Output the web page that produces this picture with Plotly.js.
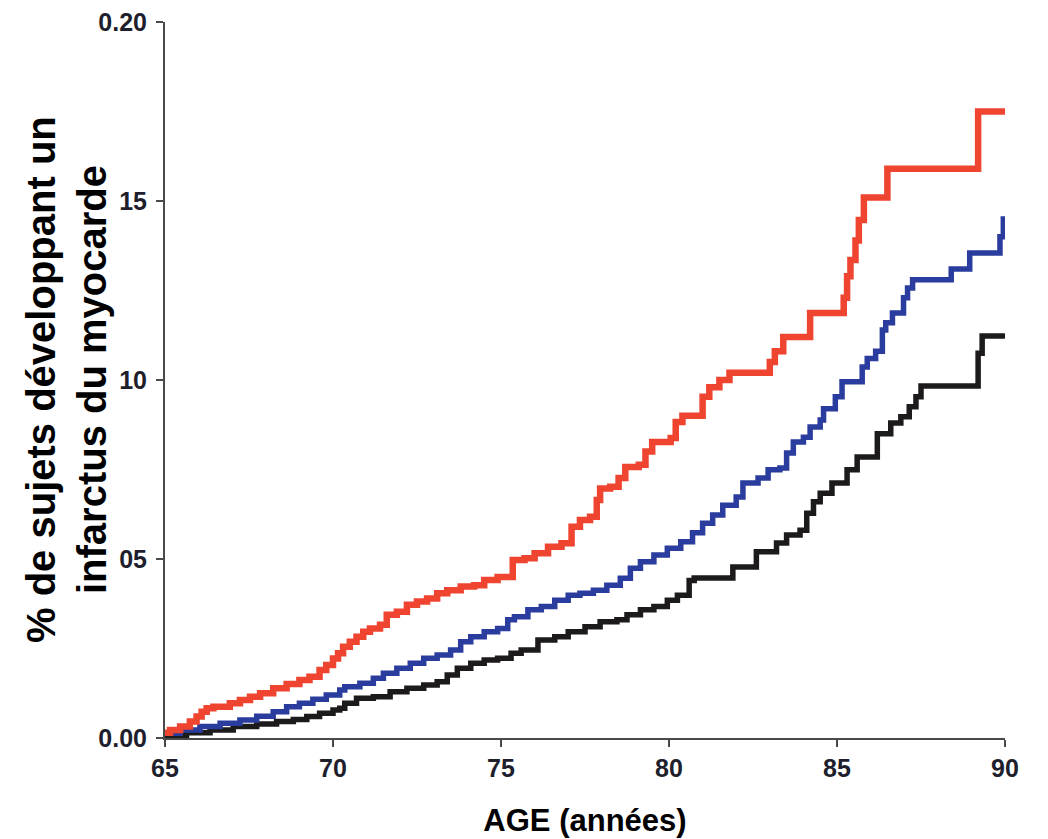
<!DOCTYPE html>
<html>
<head>
<meta charset="utf-8">
<script src="https://cdn.plot.ly/plotly-3.0.1.min.js"></script>
<style>
html,body{margin:0;padding:0;background:#fff;}
#chart{width:1048px;height:839px;}
</style>
</head>
<body>
<div id="chart"></div>
<script>
// Ages (années) and cumulative fraction of subjects with myocardial infarction
const redAge = [65.0,65.15,65.45,65.74,65.94,66.09,66.24,66.44,66.93,67.23,67.53,67.83,68.22,68.62,69.0,69.3,69.6,69.8,70.0,70.15,70.3,70.5,70.7,70.9,71.1,71.4,71.6,71.9,72.2,72.5,72.8,73.1,73.4,73.8,74.2,74.5,74.9,75.35,75.7,76.0,76.4,76.8,77.1,77.35,77.65,77.85,77.95,78.25,78.5,78.7,79.1,79.3,79.5,80.05,80.2,80.4,81.0,81.2,81.5,81.8,83.0,83.15,83.4,84.2,85.2,85.3,85.4,85.55,85.65,85.8,86.5,89.2,90.0];
const redVal = [0.0015,0.0022,0.0032,0.0046,0.0060,0.0073,0.0083,0.0087,0.0097,0.0106,0.0115,0.0125,0.0139,0.0151,0.0162,0.0171,0.0190,0.0204,0.0222,0.0237,0.0255,0.0269,0.0283,0.0297,0.0306,0.0316,0.0344,0.0353,0.0372,0.0381,0.0390,0.0404,0.0413,0.0423,0.0427,0.0441,0.0450,0.0497,0.0502,0.0516,0.0534,0.0544,0.0590,0.0609,0.0618,0.0665,0.0697,0.0702,0.0726,0.0757,0.0763,0.0800,0.0827,0.0838,0.0883,0.0900,0.0953,0.0980,0.1000,0.1020,0.1050,0.1080,0.1120,0.1187,0.1230,0.1290,0.1335,0.1390,0.1447,0.1510,0.1590,0.1750,0.1750];

const blueAge = [65.0,65.45,66.04,66.64,67.23,67.73,68.22,68.62,69.0,69.4,69.8,70.2,70.35,70.8,71.2,71.5,71.9,72.3,72.7,73.1,73.5,73.8,74.1,74.5,74.9,75.2,75.4,75.8,76.2,76.6,77.0,77.35,77.75,78.15,78.55,78.85,79.15,79.55,79.95,80.35,80.7,81.0,81.3,81.6,82.0,82.2,82.65,82.95,83.3,83.5,83.7,84.0,84.2,84.5,84.6,84.95,85.15,85.75,85.9,86.15,86.35,86.45,86.65,86.98,87.1,87.25,88.4,88.95,89.85,89.95,90.0];
const blueVal = [0.0013,0.0022,0.0032,0.0041,0.0050,0.0061,0.0073,0.0087,0.0097,0.0108,0.0120,0.0134,0.0143,0.0153,0.0167,0.0181,0.0195,0.0209,0.0223,0.0232,0.0246,0.0269,0.0283,0.0297,0.0306,0.0330,0.0339,0.0358,0.0367,0.0385,0.0399,0.0404,0.0413,0.0427,0.0446,0.0474,0.0492,0.0511,0.0530,0.0548,0.0573,0.0600,0.0623,0.0650,0.0673,0.0712,0.0726,0.0749,0.0754,0.0796,0.0827,0.0840,0.0869,0.0888,0.0920,0.0953,0.0995,0.1036,0.1060,0.1080,0.1140,0.1160,0.1187,0.1230,0.1257,0.1280,0.1310,0.1355,0.1400,0.1450,0.1450];

const blackAge = [65.0,65.64,66.34,67.03,67.73,68.32,68.82,69.22,69.6,70.0,70.2,70.35,70.7,71.2,71.7,72.2,72.7,73.1,73.4,73.7,74.1,74.5,74.9,75.3,75.6,76.1,76.6,77.0,77.5,77.95,78.45,78.75,79.15,79.55,79.95,80.25,80.6,80.75,81.9,82.6,83.2,83.5,83.9,84.1,84.3,84.5,84.85,85.3,85.6,86.2,86.6,86.9,87.15,87.35,87.5,89.2,89.32,90.0];
const blackVal = [0.0008,0.0015,0.0022,0.0032,0.0039,0.0046,0.0052,0.0060,0.0069,0.0078,0.0083,0.0097,0.0111,0.0115,0.0129,0.0139,0.0148,0.0157,0.0176,0.0195,0.0209,0.0218,0.0223,0.0237,0.0246,0.0274,0.0283,0.0297,0.0311,0.0325,0.0330,0.0344,0.0358,0.0367,0.0385,0.0399,0.0440,0.0447,0.0478,0.0520,0.0545,0.0567,0.0580,0.0628,0.0660,0.0684,0.0712,0.0749,0.0785,0.0850,0.0880,0.0897,0.0925,0.0953,0.0983,0.1075,0.1123,0.1123];

const xTicks = [65,70,75,80,85,90];
const yTickVals = [0,0.05,0.10,0.15,0.20];
const yTickText = ['0.00','05','10','15','0.20'];

const xTitle = 'AGE (années)';
const yTitle1 = '% de sujets développant un';
const yTitle2 = 'infarctus du myocarde';

const FONT = 'Liberation Sans, Arial, Helvetica, sans-serif';

const traces = [
  {x: blackAge, y: blackVal, mode:'lines', line:{shape:'hv', color:'#1c1a1a', width:5.5}, name:'black'},
  {x: blueAge, y: blueVal, mode:'lines', line:{shape:'hv', color:'#2a3c9e', width:5.5}, name:'blue'},
  {x: redAge, y: redVal, mode:'lines', line:{shape:'hv', color:'#ee4430', width:6.5}, name:'red'}
];

const tickFont = {family: FONT, size: 25, color: '#1e1e2c', weight: 'bold'};

const layout = {
  width: 1048, height: 839,
  margin: {l:165, r:43, t:22, b:101},
  paper_bgcolor: '#fff', plot_bgcolor: '#fff',
  showlegend: false,
  xaxis: {
    range: [65, 90], tickvals: xTicks, ticktext: xTicks.map(String),
    showgrid: false, zeroline: false, showline: true, linecolor: '#4a4a4a', linewidth: 2,
    ticks: 'outside', ticklen: 7, tickwidth: 2, tickcolor: '#4a4a4a',
    tickfont: tickFont,
    title: {text: xTitle, font: {family: FONT, size: 31, color: '#000', weight: 'bold'}, standoff: 28},
    automargin: false, fixedrange: true
  },
  yaxis: {
    range: [0, 0.20], tickvals: yTickVals, ticktext: yTickText,
    showgrid: false, zeroline: false, showline: true, linecolor: '#4a4a4a', linewidth: 2,
    ticks: 'outside', ticklen: 7, tickwidth: 2, tickcolor: '#4a4a4a',
    tickfont: tickFont, ticklabelstandoff: 4,
    automargin: false, fixedrange: true
  },
  annotations: [
    {text: yTitle1, xref:'paper', yref:'paper', x:(41-165)/840, y:0.5, xanchor:'center', yanchor:'middle',
     textangle:-90, showarrow:false, font:{family: FONT, size: 40, color:'#000', weight:'bold'}},
    {text: yTitle2, xref:'paper', yref:'paper', x:(92-165)/840, y:0.5, xanchor:'center', yanchor:'middle',
     textangle:-90, showarrow:false, font:{family: FONT, size: 40, color:'#000', weight:'bold'}}
  ]
};

Plotly.newPlot('chart', traces, layout, {displayModeBar:false, staticPlot:true});
</script>
</body>
</html>
